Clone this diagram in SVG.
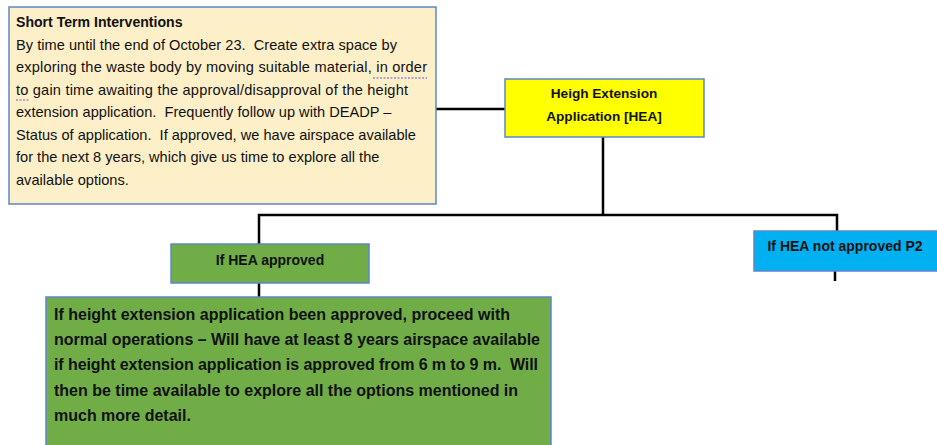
<svg xmlns="http://www.w3.org/2000/svg" width="937" height="445" viewBox="0 0 937 445">
<style>
text{font-family:"Liberation Sans",Arial,sans-serif;fill:#111;white-space:pre}
.box{stroke:#5b86cc;stroke-width:1.5}
.b{font-weight:bold}
.body{font-size:14.6px}
.big{font-size:16px;font-weight:bold}
.mid{text-anchor:middle}
.con{stroke:#000;stroke-width:2.5;fill:none}
</style>
<rect width="937" height="445" fill="#fff"/>
<g id="connectors">
<line class="con" x1="436" y1="109" x2="505" y2="109"/>
<polyline class="con" points="603,137 603,215"/>
<polyline class="con" points="259,244 259,215 837,215 837,231"/>
<line class="con" x1="259" y1="283" x2="259" y2="297"/>
<line class="con" x1="835" y1="271" x2="835" y2="281"/>
</g>
<g id="short-term">
<rect class="box" x="9" y="7" width="427" height="197" fill="#fdefc8"/>
<text class="b" x="16" y="27" font-size="14.1">Short Term Interventions</text>
<text class="body" x="16" y="50" textLength="381">By time until the end of October 23.  Create extra space by</text>
<text class="body" x="16" y="72" textLength="411">exploring the waste body by moving suitable material, in order</text>
<text class="body" x="16" y="95" textLength="392">to gain time awaiting the approval/disapproval of the height</text>
<text class="body" x="16" y="117">extension application.  Frequently follow up with DEADP –</text>
<text class="body" x="16" y="140">Status of application.  If approved, we have airspace available</text>
<text class="body" x="16" y="162">for the next 8 years, which give us time to explore all the</text>
<text class="body" x="16" y="185">available options.</text>
<line x1="373" y1="78" x2="427" y2="78" stroke="#6a5acd" stroke-width="1.2" stroke-dasharray="2,1.5"/>
<line x1="16" y1="100" x2="29" y2="100" stroke="#6a5acd" stroke-width="1.2" stroke-dasharray="2,1.5"/>
</g>
<g id="hea">
<rect class="box" x="505" y="79" width="199" height="58" fill="#ffff00"/>
<text class="b mid" x="604" y="98" font-size="13.6">Heigh Extension</text>
<text class="b mid" x="604" y="121" font-size="13.6">Application [HEA]</text>
</g>
<g id="approved">
<rect class="box" x="171" y="244" width="198" height="39" fill="#70ad47"/>
<text class="b mid" x="270" y="265" font-size="14">If HEA approved</text>
</g>
<g id="not-approved">
<rect class="box" x="754" y="231" width="190" height="40" fill="#00b0f0"/>
<text class="b mid" x="845" y="251" font-size="14">If HEA not approved P2</text>
</g>
<g id="approved-detail">
<rect class="box" x="46" y="297" width="505" height="160" fill="#70ad47"/>
<text class="big" x="54" y="320">If height extension application been approved, proceed with</text>
<text class="big" x="54" y="345" textLength="486">normal operations – Will have at least 8 years airspace available</text>
<text class="big" x="54" y="370" textLength="484">if height extension application is approved from 6 m to 9 m.  Will</text>
<text class="big" x="54" y="396">then be time available to explore all the options mentioned in</text>
<text class="big" x="54" y="421">much more detail.</text>
</g>
</svg>
